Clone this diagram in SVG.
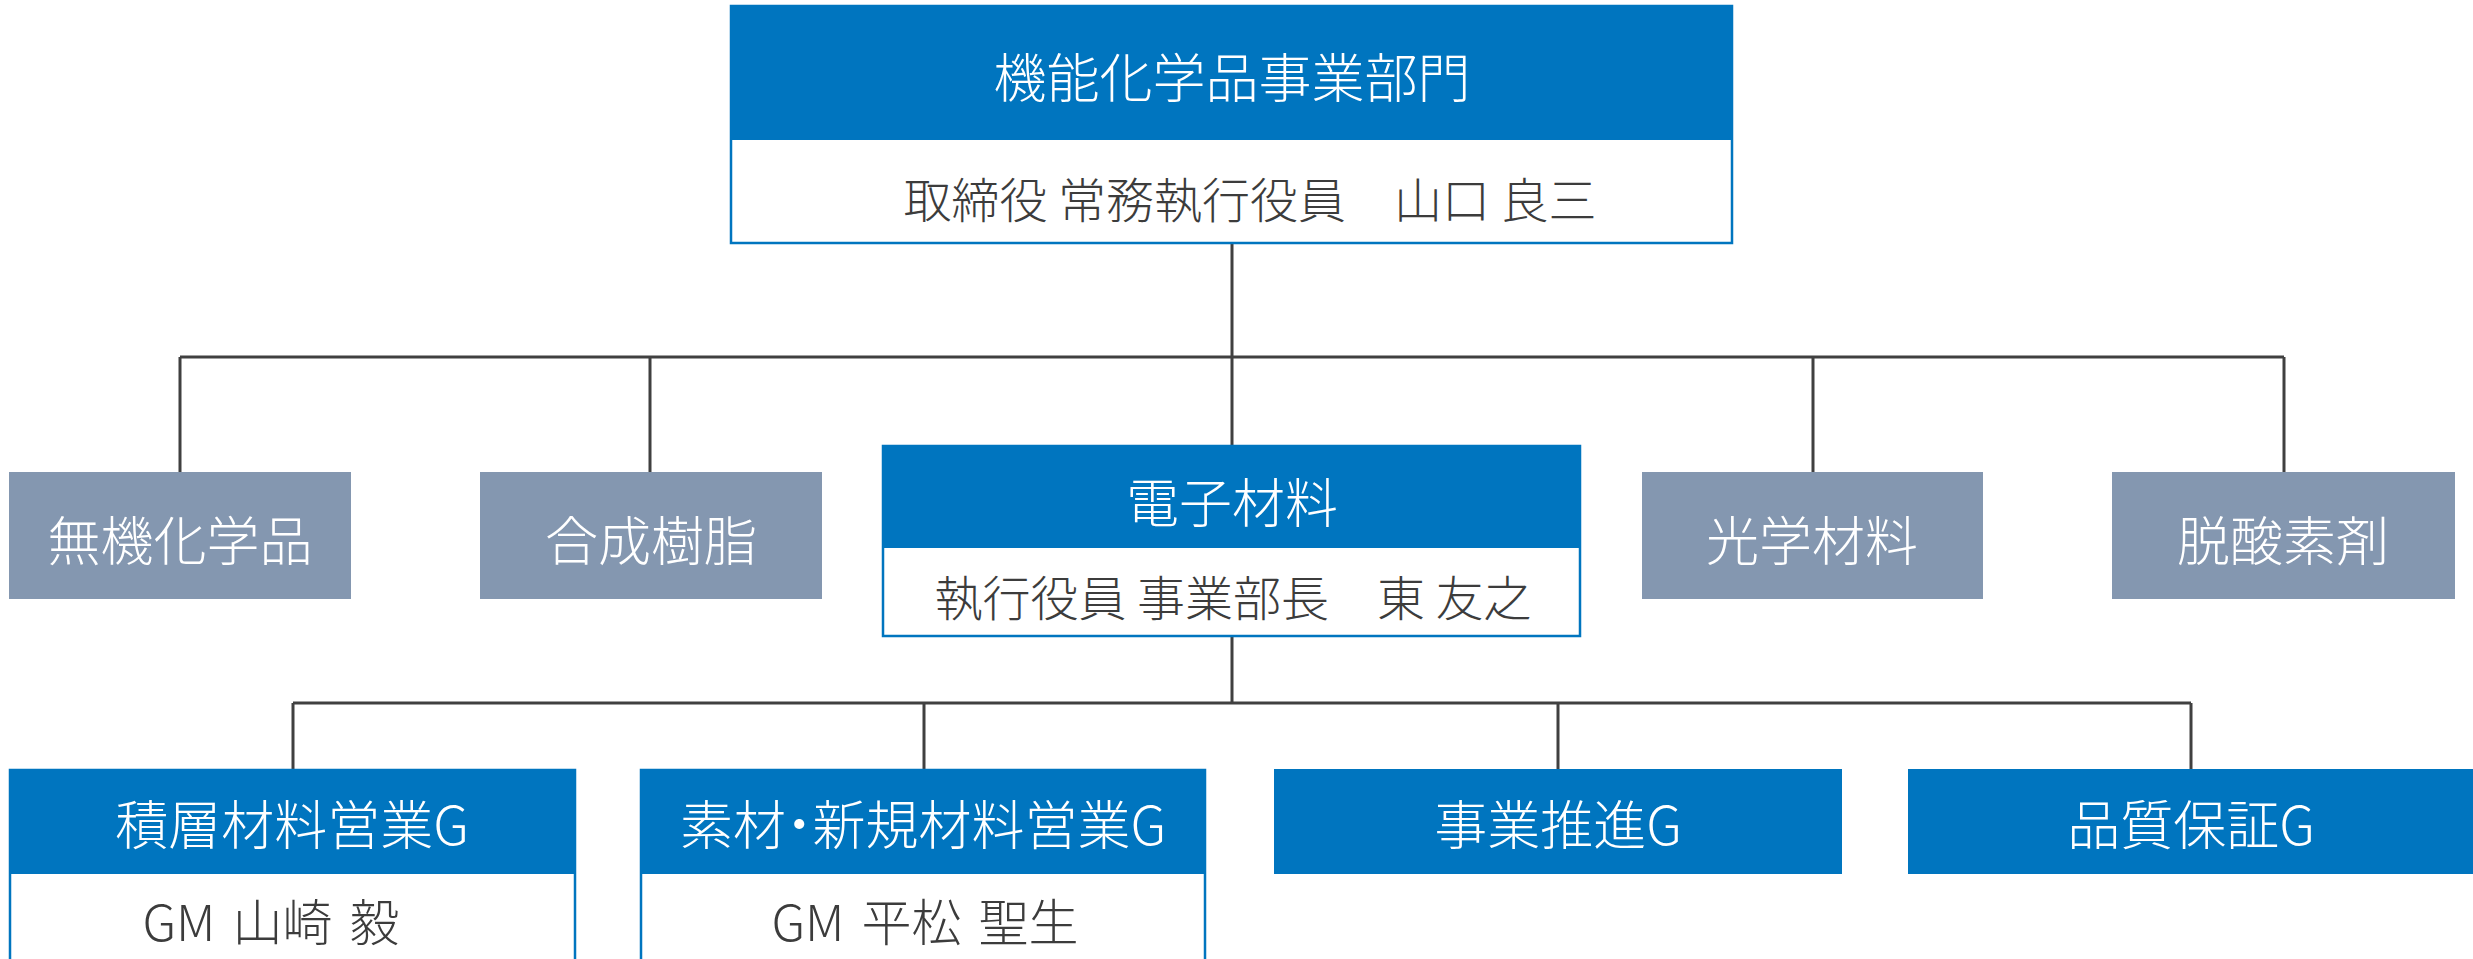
<svg xmlns="http://www.w3.org/2000/svg" width="2473" height="959" viewBox="0 0 2473 959">
<style>
.blue{fill:#0075BF;}
.gray{fill:#8497B0;}
.wbox{fill:#FFFFFF;stroke:#0075BF;stroke-width:2.5;}
.t{font-family:"Noto Sans CJK JP","Noto Sans",sans-serif;font-weight:300;text-anchor:middle;dominant-baseline:central;}
.tw{fill:#FFFFFF;font-size:53px;}
.td{fill:#3C3C3C;font-size:48px;}
.gm{fill:#3C3C3C;font-size:50px;word-spacing:6px;}
.palt{font-feature-settings:"palt";}
.conn{fill:none;stroke:#404040;stroke-width:3;}
</style>
<rect width="2473" height="959" fill="#FFFFFF"/>
<g id="connectors">
<path class="conn" d="M1232 243 V445 M180 357 H2284 M180 357 V472 M650 357 V472 M1813 357 V472 M2284 357 V472"/>
<path class="conn" d="M1232 637 V703 M293 703 H2191 M293 703 V769 M924 703 V769 M1558 703 V769 M2191 703 V769"/>
</g>
<g id="node-top">
<rect class="wbox" x="731" y="6" width="1001" height="237"/>
<rect class="blue" x="730" y="5" width="1003" height="135"/>
<text class="t tw" x="1232" y="75">機能化学品事業部門</text>
<text class="t td" x="1250" y="197">取締役 常務執行役員　山口 良三</text>
</g>
<g id="node-mukikagakuhin">
<rect class="gray" x="9" y="472" width="342" height="127"/>
<text class="t tw" x="180" y="538">無機化学品</text>
</g>
<g id="node-goseijushi">
<rect class="gray" x="480" y="472" width="342" height="127"/>
<text class="t tw" x="651" y="538">合成樹脂</text>
</g>
<g id="node-denshizairyo">
<rect class="wbox" x="883" y="446" width="697" height="190"/>
<rect class="blue" x="882" y="445" width="699" height="103"/>
<text class="t tw" x="1232" y="500">電子材料</text>
<text class="t td" x="1233" y="595">執行役員 事業部長　東 友之</text>
</g>
<g id="node-kogakuzairyo">
<rect class="gray" x="1642" y="472" width="341" height="127"/>
<text class="t tw" x="1812" y="538">光学材料</text>
</g>
<g id="node-dassansozai">
<rect class="gray" x="2112" y="472" width="343" height="127"/>
<text class="t tw" x="2283" y="538">脱酸素剤</text>
</g>
<g id="node-sekiso">
<rect class="wbox" x="10" y="770" width="565" height="200"/>
<rect class="blue" x="9" y="769" width="567" height="105"/>
<text class="t tw" x="292" y="822">積層材料営業G</text>
<text class="t gm" x="271" y="919">GM 山崎 毅</text>
</g>
<g id="node-sozai">
<rect class="wbox" x="641" y="770" width="564" height="200"/>
<rect class="blue" x="640" y="769" width="566" height="105"/>
<text class="t tw palt" x="923" y="822">素材・新規材料営業G</text>
<text class="t gm" x="925" y="919">GM 平松 聖生</text>
</g>
<g id="node-jigyosuishin">
<rect class="blue" x="1274" y="769" width="568" height="105"/>
<text class="t tw" x="1558" y="822">事業推進G</text>
</g>
<g id="node-hinshitsu">
<rect class="blue" x="1908" y="769" width="567" height="105"/>
<text class="t tw" x="2191" y="822">品質保証G</text>
</g>
</svg>
